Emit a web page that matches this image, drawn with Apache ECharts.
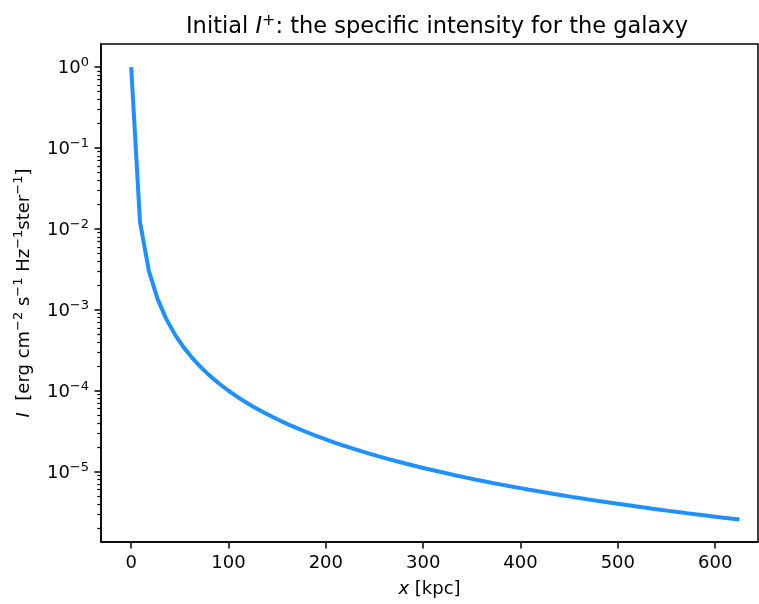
<!DOCTYPE html>
<html>
<head>
<meta charset="utf-8">
<script src="https://cdn.jsdelivr.net/npm/echarts@6/dist/echarts.min.js"></script>
<style>
  html, body { margin: 0; padding: 0; background: #fff; }
  #chart { width: 759px; height: 604px; }
</style>
</head>
<body>
<div id="chart"></div>
<script>
// x positions [kpc]
var xValues = [0, 9.06, 18.12, 27.17, 36.23, 45.29, 54.35, 63.41, 72.46, 81.52,
  90.58, 99.64, 108.7, 117.75, 126.81, 135.87, 144.93, 153.99, 163.04, 172.1,
  181.16, 190.22, 199.28, 208.33, 217.39, 226.45, 235.51, 244.57, 253.62, 262.68,
  271.74, 280.8, 289.86, 298.91, 307.97, 317.03, 326.09, 335.15, 344.2, 353.26,
  362.32, 371.38, 380.44, 389.49, 398.55, 407.61, 416.67, 425.73, 434.78, 443.84,
  452.9, 461.96, 471.02, 480.07, 489.13, 498.19, 507.25, 516.31, 525.36, 534.42,
  543.48, 552.54, 561.6, 570.65, 579.71, 588.77, 597.83, 606.89, 615.94, 625.0];

// specific intensity
var intensity = [1, 0.01219, 0.003046, 0.001355, 7.62e-4, 4.875e-4, 3.386e-4, 2.487e-4, 1.905e-4, 1.505e-4,
  1.219e-4, 1.007e-4, 8.46e-5, 7.21e-5, 6.22e-5, 5.42e-5, 4.76e-5, 4.217e-5, 3.762e-5, 3.376e-5,
  3.047e-5, 2.764e-5, 2.518e-5, 2.304e-5, 2.116e-5, 1.950e-5, 1.803e-5, 1.672e-5, 1.555e-5, 1.449e-5,
  1.354e-5, 1.268e-5, 1.190e-5, 1.119e-5, 1.054e-5, 9.95e-6, 9.40e-6, 8.90e-6, 8.44e-6, 8.01e-6,
  7.62e-6, 7.25e-6, 6.91e-6, 6.59e-6, 6.30e-6, 6.02e-6, 5.76e-6, 5.52e-6, 5.29e-6, 5.08e-6,
  4.875e-6, 4.686e-6, 4.507e-6, 4.339e-6, 4.180e-6, 4.029e-6, 3.886e-6, 3.751e-6, 3.623e-6, 3.501e-6,
  3.386e-6, 3.275e-6, 3.171e-6, 3.071e-6, 2.976e-6, 2.885e-6, 2.798e-6, 2.715e-6, 2.636e-6, 2.560e-6];

var xTicks = [0, 100, 200, 300, 400, 500, 600];
var yTicks = [1e-5, 1e-4, 1e-3, 1e-2, 1e-1, 1];
var yMinorTicks = [2e-6, 3e-6, 4e-6, 5e-6, 6e-6, 7e-6, 8e-6, 9e-6,
  2e-5, 3e-5, 4e-5, 5e-5, 6e-5, 7e-5, 8e-5, 9e-5,
  2e-4, 3e-4, 4e-4, 5e-4, 6e-4, 7e-4, 8e-4, 9e-4,
  2e-3, 3e-3, 4e-3, 5e-3, 6e-3, 7e-3, 8e-3, 9e-3,
  2e-2, 3e-2, 4e-2, 5e-2, 6e-2, 7e-2, 8e-2, 9e-2,
  0.2, 0.3, 0.4, 0.5, 0.6, 0.7, 0.8, 0.9];

var FONT = 'DejaVu Sans';

// rich styles: b = normal, i = italic, s = superscript
function richSet(size) {
  return {
    b: { fontFamily: FONT, fontSize: size, color: '#000', verticalAlign: 'bottom' },
    i: { fontFamily: FONT, fontSize: size, fontStyle: 'italic', color: '#000', verticalAlign: 'bottom' },
    s: { fontFamily: FONT, fontSize: Math.round(size * 0.7), color: '#000', verticalAlign: 'bottom',
         padding: [0, 0, Math.round(size * 0.45), 0] }
  };
}

function powLabel(v) {
  var e = Math.round(Math.log10(v));
  return '{b|10}{s|' + (e < 0 ? '\u2212' + (-e) : e) + '}';
}

var data = xValues.map(function (x, i) { return [x, intensity[i]]; });

var chart = echarts.init(document.getElementById('chart'));
var option = {
  backgroundColor: '#fff',
  animation: false,
  title: {
    text: '{b|Initial }{i|I}{s|+}{b|: the specific intensity for the galaxy}',
    left: 432,
    textAlign: 'center',
    top: 8,
    textStyle: {
      fontFamily: FONT, fontSize: 22.5, fontWeight: 'normal', color: '#000',
      rich: richSet(22.5)
    }
  },
  grid: {
    left: 101, right: 1, top: 44, bottom: 62,
    show: true, borderColor: '#000', borderWidth: 1.5, backgroundColor: 'transparent'
  },
  xAxis: {
    type: 'value',
    min: -31, max: 644,
    name: '{i|x}{b| [kpc]}',
    nameLocation: 'middle',
    nameGap: 38,
    nameTextStyle: { fontFamily: FONT, fontSize: 18, color: '#000', rich: richSet(18) },
    axisLine: { show: true, onZero: false, lineStyle: { color: '#000', width: 1.5 } },
    axisTick: { show: true, inside: false, length: 6.5, lineStyle: { color: '#000', width: 1.5 }, customValues: xTicks },
    axisLabel: { fontFamily: FONT, fontSize: 18, color: '#000', margin: 12, customValues: xTicks },
    splitLine: { show: false }
  },
  yAxis: [{
    type: 'log',
    min: 1.35e-6, max: 1.93,
    name: '{i|I}{b|  [erg cm}{s|\u22122}{b| s}{s|\u22121}{b| Hz}{s|\u22121}{b|ster}{s|\u22121}{b|]}',
    nameLocation: 'middle',
    nameGap: 68,
    nameTextStyle: { fontFamily: FONT, fontSize: 18, color: '#000', rich: richSet(18) },
    axisLine: { show: true, onZero: false, lineStyle: { color: '#000', width: 1.5 } },
    axisTick: { show: true, inside: false, length: 6.5, lineStyle: { color: '#000', width: 1.5 }, customValues: yTicks },
    axisLabel: { fontFamily: FONT, fontSize: 18, color: '#000', margin: 12, customValues: yTicks,
                 formatter: powLabel, rich: richSet(18) },
    splitLine: { show: false }
  }, {
    type: 'log',
    min: 1.35e-6, max: 1.93,
    position: 'left',
    axisLine: { show: false, onZero: false },
    axisTick: { show: true, inside: false, length: 3.7, lineStyle: { color: '#000', width: 1.2 }, customValues: yMinorTicks },
    axisLabel: { show: false },
    splitLine: { show: false }
  }],
  series: [{
    type: 'line',
    yAxisIndex: 0,
    data: data,
    showSymbol: false,
    smooth: false,
    lineStyle: { color: '#1E90FF', width: 4 },
    itemStyle: { color: '#1E90FF' }
  }]
};
chart.setOption(option);
</script>
</body>
</html>
